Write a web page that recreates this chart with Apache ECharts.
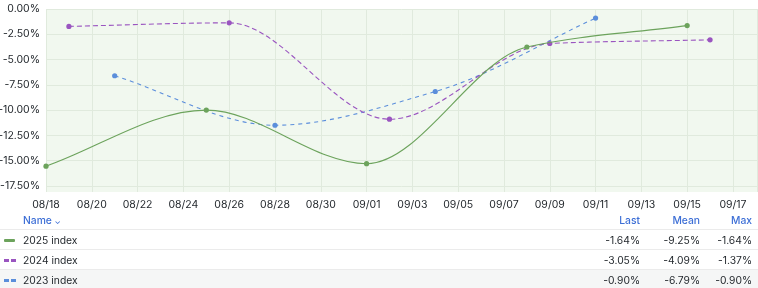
<!DOCTYPE html>
<html><head><meta charset="utf-8">
<script src="https://cdn.jsdelivr.net/npm/echarts@6/dist/echarts.min.js"></script>
<style>
html,body{margin:0;padding:0;width:758px;height:288px;overflow:hidden;background:#fff;font-family:Inter,"Noto Sans",sans-serif;}
#chart{position:absolute;left:0;top:0;width:758px;height:212px;}
#legend{position:absolute;left:0;top:0;width:758px;height:288px;font-size:10.3px;color:#24292e;pointer-events:none;}
.hdr{position:absolute;top:211px;height:18px;line-height:18px;color:#3d6fd6;font-weight:500;}
.row{position:absolute;left:0;width:758px;height:19px;line-height:20px;border-top:1px solid #ebebeb;}
.cell{position:absolute;top:0;text-align:right;}
.name{position:absolute;left:23px;top:0;}
.sw{position:absolute;left:4px;top:9px;height:3px;width:11px;}
</style></head>
<body>
<div id="chart"></div>
<div id="legend"></div>
<script>
// ---- data ----
const seriesNames = ['2025 index', '2024 index', '2023 index'];
const dates2025 = ['08/18', '08/25', '09/01', '09/08', '09/15'];
const values2025 = [-15.55, -10.0, -15.3, -3.76, -1.64];
const dates2024 = ['08/19', '08/26', '09/02', '09/09', '09/16'];
const values2024 = [-1.72, -1.37, -10.9, -3.41, -3.05];
const dates2023 = ['08/21', '08/28', '09/04', '09/11'];
const values2023 = [-6.6, -11.5, -8.16, -0.90];
const yTickValues = [-17.5, -15, -12.5, -10, -7.5, -5, -2.5, 0];
const lastValues = ['-1.64%', '-3.05%', '-0.90%'];
const meanValues = ['-9.25%', '-4.09%', '-6.79%'];
const maxValues = ['-1.64%', '-1.37%', '-0.90%'];
const statHeaders = ['Last', 'Mean', 'Max'];

// ---- helpers ----
const YEAR = 2025;
const START = Date.UTC(YEAR, 7, 18);
function dayOf(s) { const [m, d] = s.split('/').map(Number); return (Date.UTC(YEAR, m - 1, d) - START) / 86400000; }
function labelOf(day) {
  const dt = new Date(START + Math.round(day) * 86400000);
  return String(dt.getUTCMonth() + 1).padStart(2, '0') + '/' + String(dt.getUTCDate()).padStart(2, '0');
}
function monotonePath(p) {
  const n = p.length, dx = [], ds = [], ms = [];
  for (let i = 0; i < n - 1; i++) { dx[i] = p[i + 1][0] - p[i][0]; ds[i] = (p[i + 1][1] - p[i][1]) / dx[i]; }
  ms[0] = ds[0];
  for (let i = 1; i < n - 1; i++) {
    if (ds[i] === 0 || ds[i - 1] === 0 || (ds[i - 1] > 0) !== (ds[i] > 0)) ms[i] = 0;
    else ms[i] = 3 * (dx[i - 1] + dx[i]) / ((2 * dx[i] + dx[i - 1]) / ds[i - 1] + (dx[i] + 2 * dx[i - 1]) / ds[i]);
  }
  ms[n - 1] = ds[n - 2];
  let d = 'M' + p[0][0] + ' ' + p[0][1];
  for (let i = 0; i < n - 1; i++) {
    d += ' C' + (p[i][0] + dx[i] / 3) + ' ' + (p[i][1] + ms[i] * dx[i] / 3) + ' ' +
      (p[i + 1][0] - dx[i] / 3) + ' ' + (p[i + 1][1] - ms[i + 1] * dx[i] / 3) + ' ' + p[i + 1][0] + ' ' + p[i + 1][1];
  }
  return d;
}
const colors = ['#6ca35c', '#9a55c0', '#5b8edb'];
const dashes = [null, [5, 3], [4, 4]];
function makeSeries(idx, dates, values) {
  const pts = dates.map((d, i) => [dayOf(d), values[i]]);
  const color = colors[idx];
  return {
    type: 'custom', name: seriesNames[idx], data: pts, clip: false, z: 5 - idx,
    renderItem(params, api) {
      const children = [];
      if (params.dataIndex === 0) {
        const px = pts.map(p => api.coord(p));
        children.push({ type: 'path', shape: { pathData: monotonePath(px) },
          style: { fill: 'none', stroke: color, lineWidth: 1.1, lineDash: dashes[idx] }, z2: 1 });
      }
      const c = api.coord([api.value(0), api.value(1)]);
      children.push({ type: 'circle', shape: { cx: c[0], cy: c[1], r: 2.6 }, style: { fill: color }, z2: 10 });
      return { type: 'group', children };
    }
  };
}

const chart = echarts.init(document.getElementById('chart'), null, { renderer: 'canvas' });
const labelStyle = { color: '#24292e', fontSize: 10.5, fontFamily: 'Inter, "Noto Sans", sans-serif' };
chart.setOption({
  animation: false,
  grid: { left: 46, top: 9, width: 711, height: 183, show: true, backgroundColor: '#f1f8ef', borderWidth: 0,
    containLabel: false, outerBoundsMode: 'none' },
  xAxis: {
    type: 'value', min: 0, max: 31.05, interval: 2,
    axisLine: { show: false }, axisTick: { show: false },
    splitLine: { show: true, lineStyle: { color: '#e0eadd', width: 1 } },
    axisLabel: Object.assign({ margin: 7, showMaxLabel: false, formatter: v => (Math.abs(v - Math.round(v)) < 1e-6 ? labelOf(v) : '') }, labelStyle)
  },
  yAxis: {
    type: 'value', min: -18.1, max: 0,
    axisLine: { show: false },
    axisTick: { show: false, customValues: yTickValues },
    splitLine: { show: true, lineStyle: { color: '#e0eadd', width: 1 } },
    axisLabel: Object.assign({ margin: 6, customValues: yTickValues, formatter: v => v.toFixed(2) + '%' }, labelStyle)
  },
  series: [makeSeries(0, dates2025, values2025), makeSeries(1, dates2024, values2024), makeSeries(2, dates2023, values2023)]
});

// ---- legend table ----
const lg = document.getElementById('legend');
const rights = [640, 700, 752];
let html = '<div class="hdr" style="left:23px">Name <span style="font-size:8px">&#8964;</span></div>';
statHeaders.forEach((h, i) => { html += '<div class="hdr" style="right:' + (758 - rights[i]) + 'px">' + h + '</div>'; });
const stats = [lastValues, meanValues, maxValues];
seriesNames.forEach((nm, r) => {
  const top = 229 + r * 20;
  const bg = r === 2 ? 'background:#f5f6f6;' : '';
  let sw;
  if (r === 0) sw = '<div class="sw" style="background:' + colors[0] + ';border-radius:1px"></div>';
  else sw = '<div class="sw" style="width:5px;background:' + colors[r] + '"></div><div class="sw" style="left:11px;width:5px;background:' + colors[r] + '"></div>';
  html += '<div class="row" style="top:' + top + 'px;' + bg + '">' + sw + '<div class="name">' + nm + '</div>';
  stats.forEach((s, i) => { html += '<div class="cell" style="right:' + (758 - rights[i]) + 'px">' + s[r] + '</div>'; });
  html += '</div>';
});
lg.innerHTML = html;
</script>
</body></html>
